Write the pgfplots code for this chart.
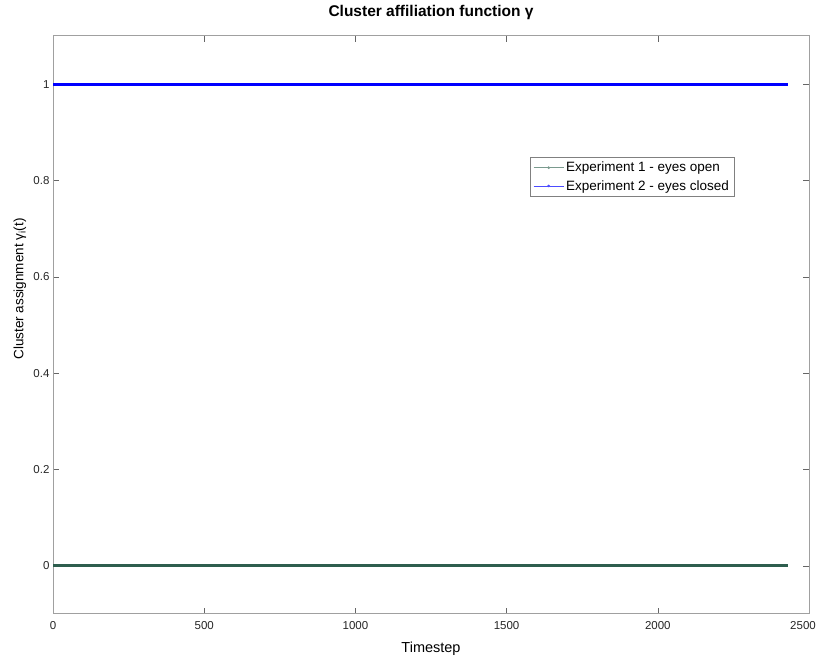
\documentclass[border=0pt]{standalone}
\usepackage{pgfplots}
\pgfplotsset{compat=1.18}
\usepackage{fontspec}
\setmainfont{Liberation Sans}
\definecolor{expone}{HTML}{2E5E4E}
\definecolor{expone2}{HTML}{7A9A8E}
\definecolor{axgray}{HTML}{A0A0A0}
\begin{document}
\begin{tikzpicture}[x=1pt,y=1pt]
\useasboundingbox (0,0) rectangle (819,658);
\begin{axis}[
  at={(53pt,44pt)}, anchor=south west,
  scale only axis, width=756pt, height=578pt,
  xmin=0, xmax=2500, ymin=-0.1, ymax=1.1,
  xtick={0,500,1000,1500,2000,2500},
  xticklabels={0,500,1000,1500,2000,\hspace*{-12pt}2500},
  ytick={0,0.2,0.4,0.6,0.8,1},
  yticklabels={0,0.2,0.4,0.6,0.8,1},
  /pgf/number format/assume math mode=true,
  /pgf/number format/1000 sep={},
  tick label style={font=\fontsize{11.5}{13}\selectfont, text=black!85},
  xticklabel style={yshift=-4pt},
  tick align=inside, xtick pos=both, ytick pos=both,
  major tick length=6pt,
  axis line style={axgray, line width=1pt},
  every tick/.style={black!60, line width=0.6pt},
  title={\bfseries Cluster affiliation function γ},
  title style={font=\fontsize{15.5}{17}\selectfont, at={(axis description cs:0.5,1)}, anchor=center, yshift=18pt},
  xlabel={Timestep},
  ylabel={Cluster assignment γ\textsubscript{i}(t)},
  label style={font=\fontsize{14.5}{16}\selectfont},
  xlabel style={at={(axis description cs:0.5,0)}, anchor=center, yshift=-35pt},
  ylabel style={font=\fontsize{13.5}{15}\selectfont, at={(axis description cs:0,0.5)}, anchor=center, xshift=36pt, yshift=33pt},
  legend style={at={(0.631,0.791)}, anchor=north west, draw=black!50, line width=0.5pt,
    font=\fontsize{13.5}{15}\selectfont, inner sep=3pt, row sep=3pt},
  legend image code/.code={\draw[#1] (0pt,0pt) -- (30pt,0pt); \fill[#1] (15pt,0pt) circle (0.9pt);},
  legend cell align=left,
]
\addplot[expone, line width=3pt, forget plot] coordinates {(0,0) (2430,0)};
\addplot[blue, line width=3pt, forget plot] coordinates {(0,1) (2430,1)};
\addlegendimage{expone2, line width=0.8pt}
\addlegendentry{Experiment 1 - eyes open}
\addlegendimage{blue!70, line width=0.8pt}
\addlegendentry{Experiment 2 - eyes closed}
\end{axis}
\end{tikzpicture}
\end{document}
